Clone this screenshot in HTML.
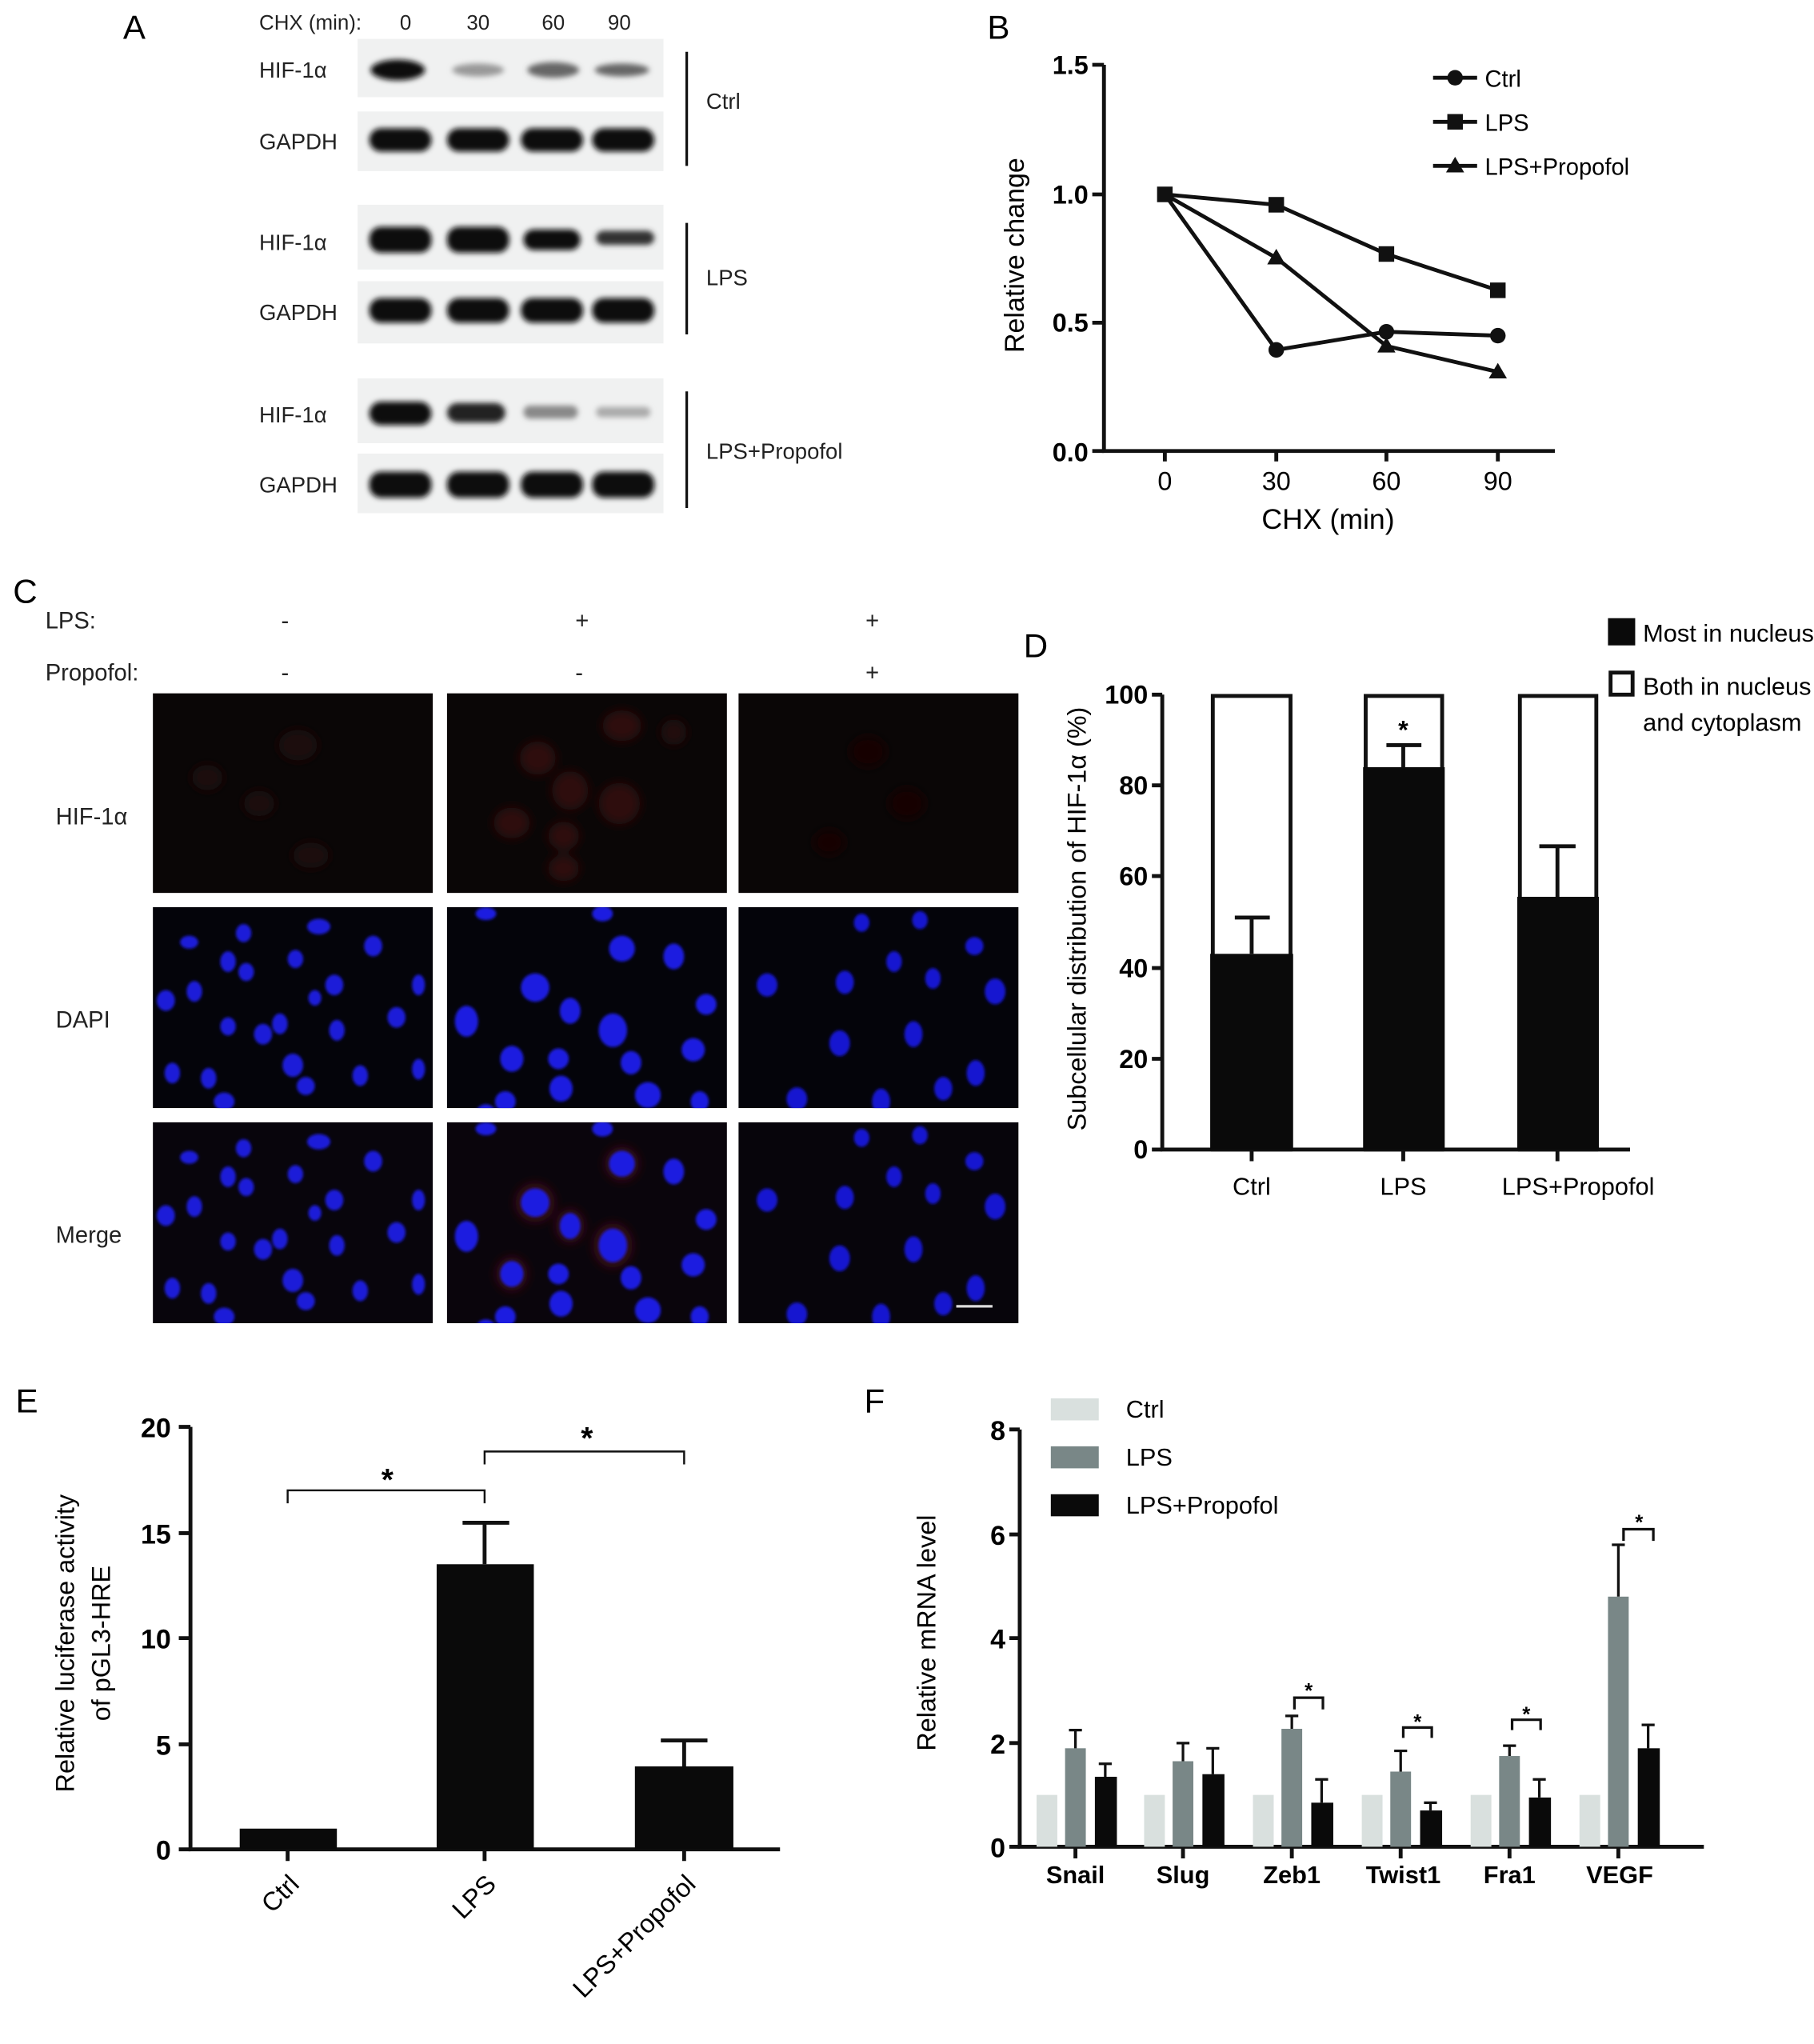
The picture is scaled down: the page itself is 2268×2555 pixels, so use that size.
<!DOCTYPE html>
<html><head><meta charset="utf-8"><style>
html,body{margin:0;padding:0;background:#fff;}
svg{display:block;}
text{font-family:"Liberation Sans",Arial,sans-serif;}
.n{font-family:"Liberation Sans Narrow","Liberation Sans",sans-serif;}
</style></head><body>
<svg width="2268" height="2555" viewBox="0 0 1400 1577.2" preserveAspectRatio="none" xmlns="http://www.w3.org/2000/svg">
<defs>
<filter id="bl" x="-20%" y="-50%" width="140%" height="200%"><feGaussianBlur stdDeviation="2.2"/></filter>
<filter id="bl2"><feGaussianBlur stdDeviation="1.2"/></filter>
<filter id="bl4"><feGaussianBlur stdDeviation="4"/></filter>
<g id="n1" fill="#1a1ad8" filter="url(#bl2)">
<ellipse cx="28" cy="27" rx="7" ry="5"/><ellipse cx="70" cy="20" rx="6" ry="7"/><ellipse cx="128" cy="15" rx="9" ry="6"/><ellipse cx="170" cy="30" rx="7" ry="8"/><ellipse cx="110" cy="40" rx="6" ry="7"/><ellipse cx="58" cy="42" rx="6" ry="8"/><ellipse cx="72" cy="50" rx="6" ry="7"/><ellipse cx="140" cy="60" rx="7" ry="8"/><ellipse cx="10" cy="72" rx="7" ry="8"/><ellipse cx="32" cy="65" rx="6" ry="8"/><ellipse cx="58" cy="92" rx="6" ry="7"/><ellipse cx="85" cy="98" rx="7" ry="8"/><ellipse cx="98" cy="90" rx="6" ry="8"/><ellipse cx="142" cy="95" rx="6" ry="8"/><ellipse cx="188" cy="85" rx="7" ry="8"/><ellipse cx="15" cy="128" rx="6" ry="8"/><ellipse cx="43" cy="132" rx="6" ry="8"/><ellipse cx="108" cy="122" rx="8" ry="9"/><ellipse cx="118" cy="138" rx="7" ry="7"/><ellipse cx="160" cy="130" rx="6" ry="8"/><ellipse cx="55" cy="150" rx="8" ry="7"/><ellipse cx="205" cy="60" rx="5" ry="8"/><ellipse cx="205" cy="125" rx="5" ry="8"/><ellipse cx="125" cy="70" rx="5" ry="6"/>
</g>
<g id="n2" fill="#1a1ae0" filter="url(#bl2)">
<ellipse cx="135" cy="32" rx="10" ry="10"/><ellipse cx="175" cy="38" rx="8" ry="10"/><ellipse cx="68" cy="62" rx="11" ry="11"/><ellipse cx="95" cy="80" rx="8" ry="10"/><ellipse cx="128" cy="95" rx="11" ry="13"/><ellipse cx="15" cy="88" rx="9" ry="12"/><ellipse cx="50" cy="117" rx="9" ry="10"/><ellipse cx="142" cy="120" rx="8" ry="9"/><ellipse cx="88" cy="140" rx="9" ry="10"/><ellipse cx="86" cy="117" rx="8" ry="8"/><ellipse cx="155" cy="145" rx="10" ry="10"/><ellipse cx="190" cy="110" rx="9" ry="9"/><ellipse cx="195" cy="150" rx="7" ry="8"/><ellipse cx="45" cy="150" rx="8" ry="8"/><ellipse cx="200" cy="75" rx="8" ry="8"/><ellipse cx="30" cy="160" rx="8" ry="8"/><ellipse cx="120" cy="5" rx="8" ry="6"/><ellipse cx="30" cy="5" rx="8" ry="5"/>
</g>
<g id="n3" fill="#1818d0" filter="url(#bl2)">
<ellipse cx="95" cy="12" rx="6" ry="7"/><ellipse cx="140" cy="10" rx="6" ry="7"/><ellipse cx="182" cy="30" rx="7" ry="7"/><ellipse cx="22" cy="60" rx="8" ry="9"/><ellipse cx="82" cy="58" rx="7" ry="9"/><ellipse cx="120" cy="42" rx="6" ry="8"/><ellipse cx="150" cy="55" rx="6" ry="8"/><ellipse cx="198" cy="65" rx="8" ry="10"/><ellipse cx="78" cy="105" rx="8" ry="10"/><ellipse cx="135" cy="98" rx="7" ry="10"/><ellipse cx="45" cy="148" rx="8" ry="9"/><ellipse cx="110" cy="150" rx="7" ry="10"/><ellipse cx="158" cy="140" rx="7" ry="9"/><ellipse cx="183" cy="128" rx="7" ry="10"/><ellipse cx="75" cy="165" rx="8" ry="8"/><ellipse cx="8" cy="175" rx="6" ry="8"/>
</g>
</defs>

<!-- Panel A -->
<text x="95" y="30" font-size="26">A</text>
<text x="200" y="23" font-size="16" class="n" fill="#222">CHX (min):</text>
<g font-size="16" class="n" text-anchor="middle" fill="#222"><text x="313" y="23">0</text><text x="369" y="23">30</text><text x="427" y="23">60</text><text x="478" y="23">90</text></g>
<g fill="#f0f1f1"><rect x="276" y="30" width="236" height="45"/><rect x="276" y="86" width="236" height="46"/><rect x="276" y="158" width="236" height="50"/><rect x="276" y="217" width="236" height="48"/><rect x="276" y="292" width="236" height="50"/><rect x="276" y="350" width="236" height="46"/></g>
<g fill="#111" filter="url(#bl)">
<ellipse cx="307" cy="54" rx="21" ry="8"/><ellipse cx="369" cy="54" rx="20" ry="5" fill="#999"/><ellipse cx="427" cy="54" rx="20" ry="6" fill="#666"/><ellipse cx="480" cy="54" rx="21" ry="5" fill="#666"/>
<rect x="285" y="99" width="48" height="18" rx="9"/><rect x="345" y="99" width="48" height="18" rx="9"/><rect x="402" y="99" width="48" height="18" rx="9"/><rect x="457" y="99" width="48" height="18" rx="9"/>
<rect x="285" y="175" width="48" height="20" rx="9"/><rect x="345" y="175" width="48" height="20" rx="9"/><rect x="404" y="177" width="44" height="16" rx="8"/><rect x="460" y="178" width="45" height="11" rx="6" fill="#333"/>
<rect x="285" y="230" width="48" height="19" rx="9"/><rect x="345" y="230" width="48" height="19" rx="9"/><rect x="402" y="230" width="48" height="19" rx="9"/><rect x="457" y="230" width="48" height="19" rx="9"/>
<rect x="285" y="310" width="48" height="18" rx="9"/><rect x="345" y="311" width="45" height="15" rx="8" fill="#222"/><rect x="404" y="313" width="42" height="10" rx="5" fill="#888"/><rect x="460" y="314" width="42" height="8" rx="4" fill="#aaa"/>
<rect x="285" y="364" width="48" height="20" rx="9"/><rect x="345" y="364" width="48" height="20" rx="9"/><rect x="402" y="364" width="48" height="20" rx="9"/><rect x="457" y="364" width="48" height="20" rx="9"/>
</g>
<g font-size="17" class="n" fill="#222"><text x="200" y="60">HIF-1α</text><text x="200" y="115">GAPDH</text><text x="200" y="193">HIF-1α</text><text x="200" y="247">GAPDH</text><text x="200" y="326">HIF-1α</text><text x="200" y="380">GAPDH</text>
<text x="545" y="84">Ctrl</text><text x="545" y="220">LPS</text><text x="545" y="354">LPS+Propofol</text></g>
<g stroke="#111" stroke-width="2"><line x1="530" y1="40" x2="530" y2="128"/><line x1="530" y1="172" x2="530" y2="258"/><line x1="530" y1="302" x2="530" y2="392"/></g>

<!-- Panel B -->
<text x="762" y="30" font-size="26">B</text>
<g stroke="#111" stroke-width="3" fill="none"><path d="M852,50 V348 H1200"/><path d="M843,50H852M843,150H852M843,249H852M843,348H852"/><path d="M899,348V356M985,348V356M1070,348V356M1156,348V356"/></g>
<g font-size="20" font-weight="bold" class="n" text-anchor="end"><text x="840" y="57">1.5</text><text x="840" y="157">1.0</text><text x="840" y="256">0.5</text><text x="840" y="356">0.0</text></g>
<g font-size="20" text-anchor="middle" class="n"><text x="899" y="378">0</text><text x="985" y="378">30</text><text x="1070" y="378">60</text><text x="1156" y="378">90</text></g>
<text x="1025" y="408" font-size="22" text-anchor="middle">CHX (min)</text>
<text transform="translate(790,197) rotate(-90)" font-size="21" text-anchor="middle">Relative change</text>
<g stroke="#111" stroke-width="3" fill="none"><polyline points="899,150 985,270 1070,256 1156,259"/><polyline points="899,150 985,158 1070,196 1156,224"/><polyline points="899,150 985,199 1070,267 1156,287"/></g>
<g fill="#111"><circle cx="985" cy="270" r="6"/><circle cx="1070" cy="256" r="6"/><circle cx="1156" cy="259" r="6"/>
<rect x="893" y="144" width="12" height="12"/><rect x="979" y="152" width="12" height="12"/><rect x="1064" y="190" width="12" height="12"/><rect x="1150" y="218" width="12" height="12"/>
<path d="M985,192l7,12h-14z M1070,260l7,12h-14z M1156,280l7,12h-14z"/></g>
<g stroke="#111" stroke-width="3"><line x1="1106" y1="60" x2="1140" y2="60"/><line x1="1106" y1="94" x2="1140" y2="94"/><line x1="1106" y1="128" x2="1140" y2="128"/></g>
<circle cx="1123" cy="60" r="6" fill="#111"/><rect x="1117" y="88" width="12" height="12" fill="#111"/><path d="M1123,121l7,12h-14z" fill="#111"/>
<g font-size="18" class="n"><text x="1146" y="67">Ctrl</text><text x="1146" y="101">LPS</text><text x="1146" y="135">LPS+Propofol</text></g>

<!-- Panel C -->
<text x="10" y="465" font-size="26">C</text>
<g font-size="18" class="n" fill="#222"><text x="35" y="485">LPS:</text><text x="35" y="525">Propofol:</text>
<text x="217" y="485">-</text><text x="444" y="485">+</text><text x="668" y="485">+</text>
<text x="217" y="525">-</text><text x="444" y="525">-</text><text x="668" y="525">+</text>
<text x="43" y="636">HIF-1α</text><text x="43" y="793">DAPI</text><text x="43" y="959">Merge</text></g>
<g fill="#0a0606"><rect x="118" y="535" width="216" height="154"/><rect x="345" y="535" width="216" height="154"/><rect x="570" y="535" width="216" height="154"/></g>
<g fill="#04040a"><rect x="118" y="700" width="216" height="155"/><rect x="345" y="700" width="216" height="155"/><rect x="570" y="700" width="216" height="155"/>
<rect x="118" y="866" width="216" height="155" fill="#08050c"/><rect x="345" y="866" width="216" height="155" fill="#0a050c"/><rect x="570" y="866" width="216" height="155" fill="#07050b"/></g>
<g filter="url(#bl4)" fill="#1e0707"><ellipse cx="230" cy="575" rx="15" ry="12"/><ellipse cx="200" cy="620" rx="12" ry="10"/><ellipse cx="240" cy="660" rx="14" ry="10"/><ellipse cx="160" cy="600" rx="12" ry="10"/></g>
<g filter="url(#bl4)" fill="#2e0909"><ellipse cx="480" cy="560" rx="15" ry="12"/><ellipse cx="415" cy="585" rx="14" ry="13"/><ellipse cx="440" cy="610" rx="14" ry="15"/><ellipse cx="478" cy="620" rx="16" ry="16"/><ellipse cx="395" cy="635" rx="14" ry="12"/><ellipse cx="435" cy="645" rx="12" ry="11"/><ellipse cx="435" cy="670" rx="12" ry="10"/><ellipse cx="520" cy="565" rx="10" ry="10" fill="#200808"/></g>
<g filter="url(#bl4)" fill="#180606"><ellipse cx="670" cy="580" rx="14" ry="12"/><ellipse cx="700" cy="620" rx="14" ry="12"/><ellipse cx="640" cy="650" rx="12" ry="10"/></g>
<svg x="118" y="700" width="216" height="155"><use href="#n1"/></svg>
<svg x="345" y="700" width="216" height="155"><use href="#n2"/></svg>
<svg x="570" y="700" width="216" height="155"><use href="#n3"/></svg>
<svg x="118" y="866" width="216" height="155"><use href="#n1"/></svg>
<svg x="345" y="866" width="216" height="155"><g filter="url(#bl4)" fill="#3a0c14"><ellipse cx="68" cy="62" rx="15" ry="15"/><ellipse cx="128" cy="95" rx="15" ry="17"/><ellipse cx="135" cy="32" rx="13" ry="13"/><ellipse cx="50" cy="117" rx="12" ry="13"/><ellipse cx="95" cy="80" rx="11" ry="13"/></g><use href="#n2"/></svg>
<svg x="570" y="866" width="216" height="155"><use href="#n3"/></svg>
<line x1="738" y1="1008" x2="766" y2="1008" stroke="#ddd" stroke-width="2"/>

<!-- Panel D -->
<text x="790" y="507" font-size="26">D</text>
<g stroke="#111" stroke-width="3" fill="none"><path d="M897,536 V887 H1258"/><path d="M889,536H897M889,606H897M889,676H897M889,747H897M889,817H897M889,887H897"/><path d="M966,887V896M1083,887V896M1202,887V896"/></g>
<g font-size="20" font-weight="bold" class="n" text-anchor="end"><text x="886" y="543">100</text><text x="886" y="613">80</text><text x="886" y="683">60</text><text x="886" y="754">40</text><text x="886" y="824">20</text><text x="886" y="894">0</text></g>
<g stroke="#111" stroke-width="3" fill="#fff"><rect x="936" y="537" width="60" height="350"/><rect x="1054" y="537" width="59" height="350"/><rect x="1173" y="537" width="59" height="350"/></g>
<g fill="#0a0a0a"><rect x="934" y="736" width="64" height="151"/><rect x="1052" y="592" width="63" height="295"/><rect x="1171" y="692" width="63" height="195"/></g>
<g stroke="#111" stroke-width="3" fill="none"><path d="M966,736V708M953,708H980"/><path d="M1083,592V575M1070,575H1097"/><path d="M1202,692V653M1188,653H1216"/></g>
<text x="1083" y="570" font-size="20" font-weight="bold" text-anchor="middle">*</text>
<g font-size="19" class="n" text-anchor="middle"><text x="966" y="922">Ctrl</text><text x="1083" y="922">LPS</text><text x="1218" y="922">LPS+Propofol</text></g>
<text transform="translate(838,709) rotate(-90)" font-size="20" text-anchor="middle">Subcellular distribution of HIF-1α (%)</text>
<rect x="1241" y="477" width="21" height="21" fill="#0a0a0a"/><rect x="1243" y="519" width="17" height="17" fill="#fff" stroke="#111" stroke-width="3"/>
<g font-size="19" class="n"><text x="1268" y="495">Most in nucleus</text><text x="1268" y="536">Both in nucleus</text><text x="1268" y="564">and cytoplasm</text></g>

<!-- Panel E -->
<text x="12" y="1090" font-size="26">E</text>
<g stroke="#111" stroke-width="3" fill="none"><path d="M147,1101 V1427 H602"/><path d="M138,1101H147M138,1183H147M138,1264H147M138,1346H147M138,1427H147"/><path d="M222,1427V1436M374,1427V1436M528,1427V1436"/></g>
<g font-size="21" font-weight="bold" text-anchor="end"><text x="132" y="1109">20</text><text x="132" y="1191">15</text><text x="132" y="1272">10</text><text x="132" y="1354">5</text><text x="132" y="1435">0</text></g>
<g fill="#0a0a0a"><rect x="185" y="1411" width="75" height="16"/><rect x="337" y="1207" width="75" height="220"/><rect x="490" y="1363" width="76" height="64"/></g>
<g stroke="#111" stroke-width="3" fill="none"><path d="M374,1207V1175M357,1175H393"/><path d="M528,1363V1343M510,1343H546"/></g>
<g stroke="#111" stroke-width="1.5" fill="none"><path d="M222,1160V1150H374V1160"/><path d="M374,1130V1120H528V1130"/></g>
<g font-size="24" font-weight="bold" text-anchor="middle"><text x="299" y="1150">*</text><text x="453" y="1118">*</text></g>
<g font-size="20"><text transform="translate(232,1455) rotate(-45)" text-anchor="end">Ctrl</text><text transform="translate(384,1455) rotate(-45)" text-anchor="end">LPS</text><text transform="translate(538,1455) rotate(-45)" text-anchor="end">LPS+Propofol</text></g>
<text transform="translate(57,1268) rotate(-90)" font-size="20" text-anchor="middle">Relative luciferase activity</text>
<text transform="translate(85,1268) rotate(-90)" font-size="20" text-anchor="middle">of pGL3-HRE</text>

<!-- Panel F -->
<text x="667" y="1090" font-size="26">F</text>
<g stroke="#111" stroke-width="3" fill="none"><path d="M787,1103 V1425 H1315"/><path d="M779,1103H787M779,1184H787M779,1264H787M779,1345H787M779,1425H787"/><path d="M830,1425V1434M913,1425V1434M997,1425V1434M1081,1425V1434M1165,1425V1434M1249,1425V1434"/></g>
<g font-size="21" font-weight="bold" text-anchor="end"><text x="776" y="1111">8</text><text x="776" y="1192">6</text><text x="776" y="1272">4</text><text x="776" y="1353">2</text><text x="776" y="1433">0</text></g>
<g fill="#d9e0de"><rect x="800" y="1385" width="16" height="40"/><rect x="883" y="1385" width="16" height="40"/><rect x="967" y="1385" width="16" height="40"/><rect x="1051" y="1385" width="16" height="40"/><rect x="1135" y="1385" width="16" height="40"/><rect x="1219" y="1385" width="16" height="40"/></g>
<g fill="#798787"><rect x="822" y="1349" width="16" height="76"/><rect x="905" y="1359" width="16" height="66"/><rect x="989" y="1334" width="16" height="91"/><rect x="1073" y="1367" width="16" height="58"/><rect x="1157" y="1355" width="16" height="70"/><rect x="1241" y="1232" width="16" height="193"/></g>
<g fill="#0a0a0a"><rect x="845" y="1371" width="17" height="54"/><rect x="928" y="1369" width="17" height="56"/><rect x="1012" y="1391" width="17" height="34"/><rect x="1096" y="1397" width="17" height="28"/><rect x="1180" y="1387" width="17" height="38"/><rect x="1264" y="1349" width="17" height="76"/></g>
<g stroke="#111" stroke-width="2" fill="none">
<path d="M830,1349V1335M825,1335H835 M913,1359V1345M908,1345H918 M997,1334V1324M992,1324H1002 M1081,1367V1351M1076,1351H1086 M1165,1355V1347M1160,1347H1170 M1249,1232V1192M1244,1192H1254"/>
<path d="M853,1371V1361M848,1361H858 M936,1369V1349M931,1349H941 M1020,1391V1373M1015,1373H1025 M1104,1397V1391M1099,1391H1109 M1188,1387V1373M1183,1373H1193 M1272,1349V1331M1267,1331H1277"/>
<path d="M999,1319V1310H1021V1319 M1083,1341V1333H1105V1341 M1167,1335V1327H1189V1335 M1253,1189V1180H1276V1189"/></g>
<g font-size="16" font-weight="bold" text-anchor="middle"><text x="1010" y="1310">*</text><text x="1094" y="1334">*</text><text x="1178" y="1328">*</text><text x="1265" y="1180">*</text></g>
<g font-size="19" font-weight="bold" class="n" text-anchor="middle"><text x="830" y="1453">Snail</text><text x="913" y="1453">Slug</text><text x="997" y="1453">Zeb1</text><text x="1083" y="1453">Twist1</text><text x="1165" y="1453">Fra1</text><text x="1250" y="1453">VEGF</text></g>
<text transform="translate(722,1260) rotate(-90)" font-size="20" text-anchor="middle">Relative mRNA level</text>
<rect x="811" y="1079" width="37" height="17" fill="#d9e0de"/><rect x="811" y="1116" width="37" height="17" fill="#798787"/><rect x="811" y="1153" width="37" height="17" fill="#0a0a0a"/>
<g font-size="19" class="n"><text x="869" y="1094">Ctrl</text><text x="869" y="1131">LPS</text><text x="869" y="1168">LPS+Propofol</text></g>
</svg>
</body></html>
